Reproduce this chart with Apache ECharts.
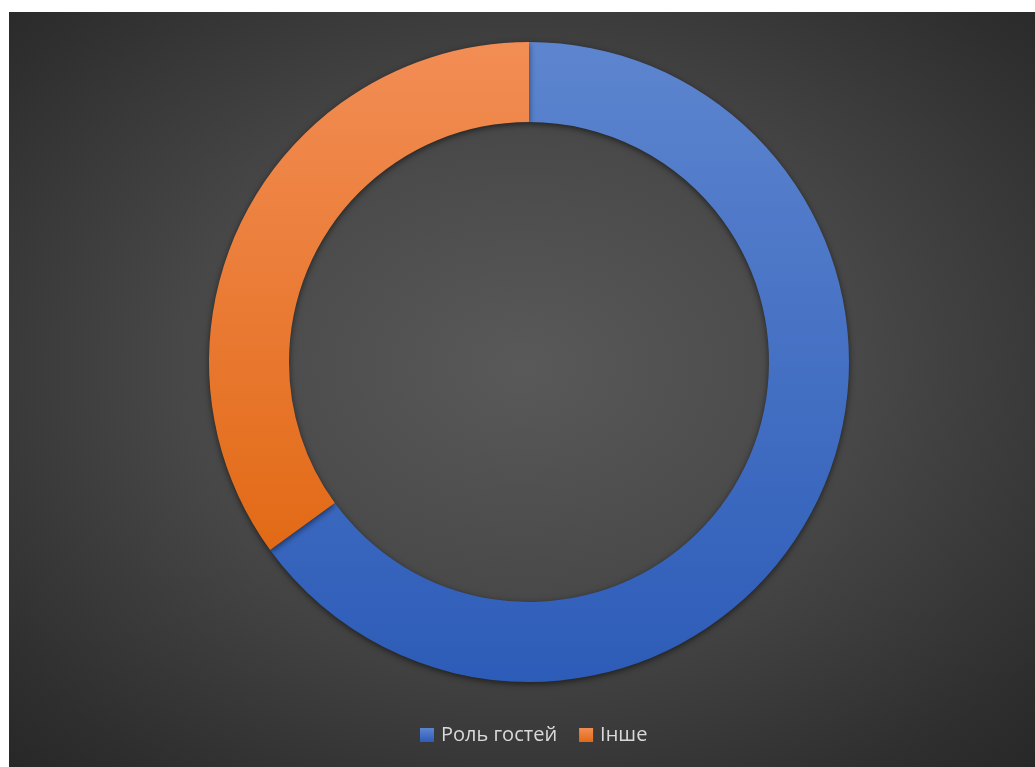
<!DOCTYPE html>
<html><head><meta charset="utf-8">
<script src="https://cdn.jsdelivr.net/npm/echarts@6/dist/echarts.min.js"></script>
<style>
html,body{margin:0;padding:0;background:#ffffff;width:1035px;height:767px;overflow:hidden;}
#c{position:absolute;left:9px;top:12px;width:1026px;height:755px;
background:radial-gradient(ellipse 75% 75% at 50% 47%, #595959 0%, #474747 45%, #2e2e2e 85%, #262626 100%);}
</style></head>
<body><div id="c"></div>
<script>
const categories = ['Роль гостей', 'Інше'];
const values = [65, 35];
const topColors = ['#5d85cf', '#f28d55'];
const bottomColors = ['#2d5cb8', '#e26a16'];

const chart = echarts.init(document.getElementById('c'), null, {renderer:'canvas'});
chart.setOption({
  backgroundColor: 'transparent',
  animation: false,
  legend: {
    data: categories,
    top: 708,
    left: 406,
    itemWidth: 14,
    itemHeight: 14,
    itemGap: 22,
    icon: 'rect',
    textStyle: {color: '#d9d9d9', fontSize: 20, fontFamily: 'Open Sans', padding: [0, 0, 0, 2]}
  },
  series: [{
    type: 'pie',
    center: [520, 350],
    radius: [240, 320],
    startAngle: 90,
    clockwise: true,
    label: {show: false},
    labelLine: {show: false},
    emphasis: {disabled: true},
    data: categories.map((c, i) => ({
      name: c,
      value: values[i],
      itemStyle: {
        color: new echarts.graphic.LinearGradient(0, 0, 0, 1, [
          {offset: 0, color: topColors[i]},
          {offset: 1, color: bottomColors[i]}
        ]),
        shadowBlur: 6,
        shadowColor: 'rgba(0,0,0,0.55)',
        shadowOffsetY: 2
      }
    }))
  }]
});
</script></body></html>
